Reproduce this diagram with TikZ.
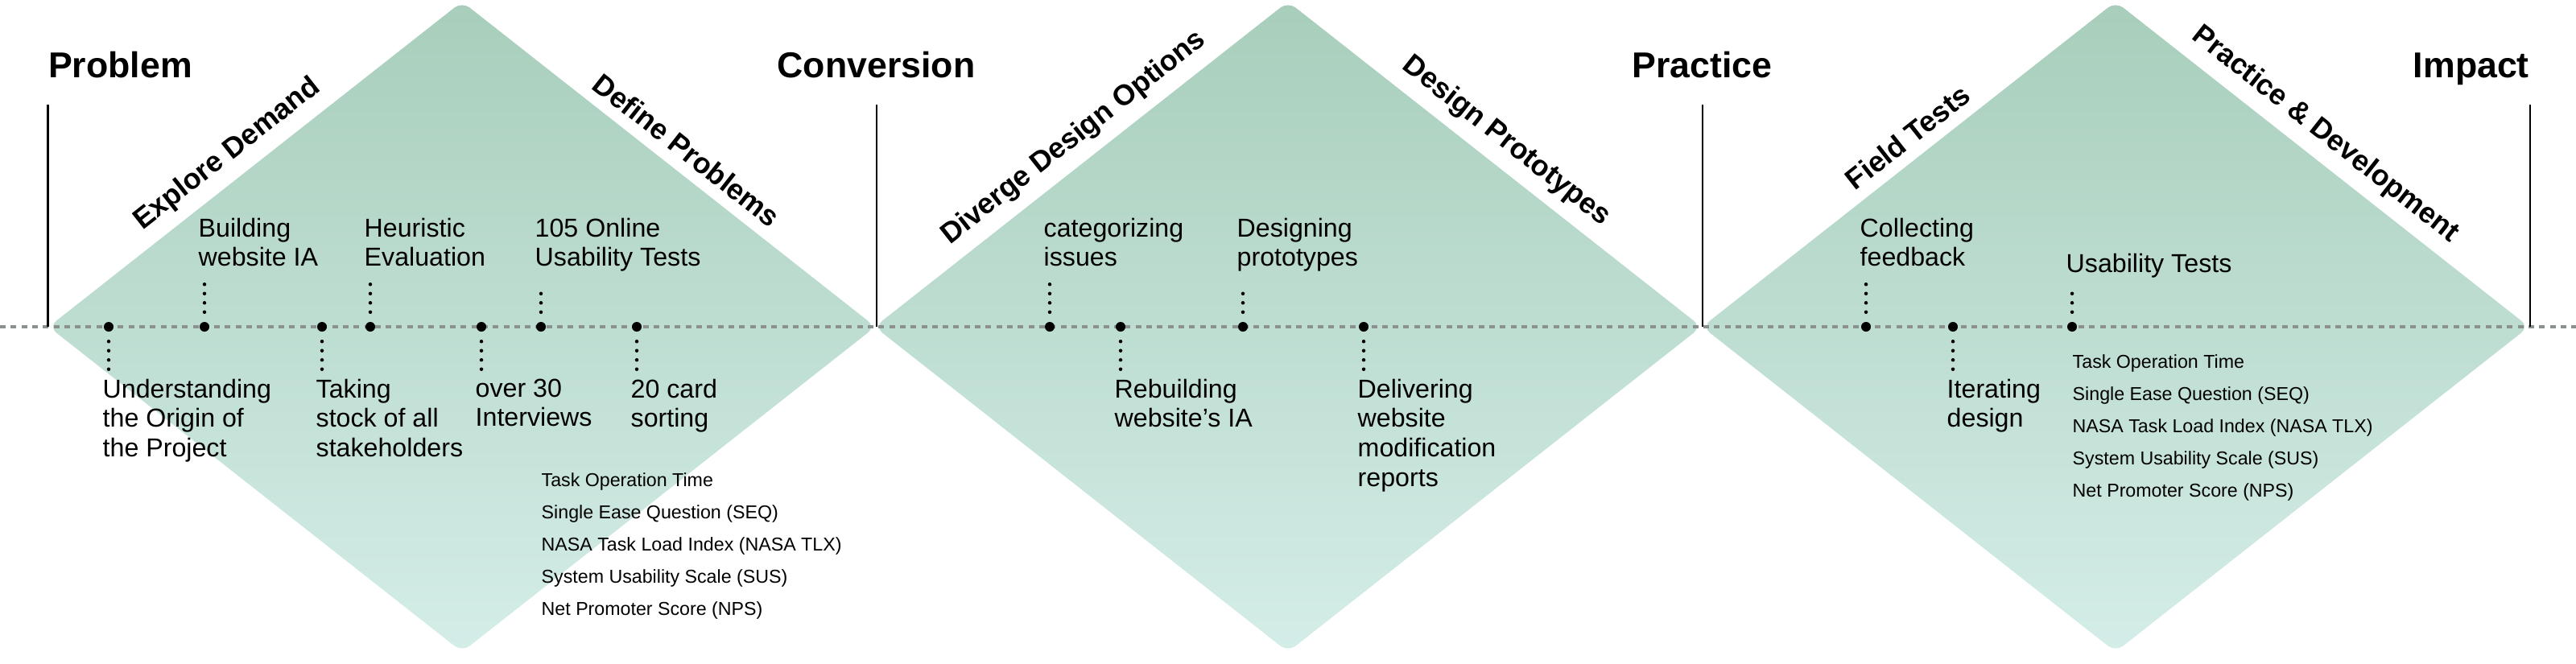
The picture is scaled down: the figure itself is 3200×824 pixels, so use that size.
\documentclass[tikz,border=0pt]{standalone}
\usepackage{fontspec}
\setmainfont{Liberation Sans}
\usetikzlibrary{shapes.geometric,positioning}

\definecolor{sagetop}{RGB}{168,206,187}
\definecolor{sagebottom}{RGB}{212,237,232}
\definecolor{axisgray}{RGB}{138,145,143}

\begin{document}
\begin{tikzpicture}[x=0.01cm, y=-0.01cm,
    stage/.style={diamond, draw=none, minimum width=10.27cm, minimum height=8.08cm, inner sep=0pt, rounded corners=0.12cm, top color=sagetop, bottom color=sagebottom},
    heading/.style={font=\fontsize{12.7}{15}\selectfont\bfseries, inner sep=0pt},
    phase/.style={font=\fontsize{10.2}{12}\selectfont\bfseries, inner xsep=0pt, inner ysep=0.13cm, sloped, anchor=south},
    note/.style={font=\fontsize{9.15}{10.45}\selectfont, align=left, inner sep=0pt, anchor=north west, xshift=-0.08cm},
    metric/.style={font=\fontsize{6.6}{11.38}\selectfont, align=left, inner sep=0pt, anchor=north west},
    milestone/.style={circle, fill=black, minimum size=0.12cm, inner sep=0pt},
    lead/.style={line width=0.045cm, line cap=round, dash pattern=on 0pt off 0.115cm, shorten <=0.115cm},
    leadup/.style={lead, shorten >=0.17cm},
    leaddown/.style={lead, shorten >=0.05cm},
    timeline/.style={axisgray, line width=0.035cm, dash pattern=on 0.07cm off 0.063cm},
    divider/.style={line width=0.02cm}]
  \useasboundingbox (0,0) rectangle (3200,824);

  \node[stage] (dA) at (574,406) {};
  \node[stage] (dB) at (1600,406) {};
  \node[stage] (dC) at (2628,406) {};

  \coordinate (axisL) at (0,406);
  \coordinate (axisR) at (3200,406);
  \draw[timeline] (axisL) -- (axisR);

  \draw[divider] (dA.west) -- ++(0,-276);
  \draw[divider] (dA.east) -- ++(0,-276);
  \draw[divider] (dB.east) -- ++(0,-276);
  \draw[divider] (dC.east) -- ++(0,-276);

  \node[heading, anchor=base west] (hProblem) at (dA.west |- 0,97) {Problem};
  \node[heading, anchor=base] (hConversion) at (dA.east |- 0,97) {Conversion};
  \node[heading, anchor=base] (hPractice) at (dB.east |- 0,97) {Practice};
  \node[heading, anchor=base east] (hImpact) at (dC.east |- 0,97) {Impact};

  \path (dA.west) -- (dA.north) node[phase, pos=0.47] (pExplore) {Explore Demand};
  \path (dA.north) -- (dA.east) node[phase, pos=0.51] (pDefine) {Define Problems};
  \path (dB.west) -- (dB.north) node[phase, pos=0.52] (pDiverge) {Diverge Design Options};
  \path (dB.north) -- (dB.east) node[phase, pos=0.49] (pPrototype) {Design Prototypes};
  \path (dC.west) -- (dC.north) node[phase, pos=0.53] (pField) {Field Tests};
  \path (dC.north) -- (dC.east) node[phase, pos=0.47] (pDevelop) {Practice \& Development};

  \node[milestone] (m1) at (135,406) {};
  \node[milestone] (m2) at (254,406) {};
  \node[milestone] (m3) at (400,406) {};
  \node[milestone] (m4) at (460,406) {};
  \node[milestone] (m5) at (598,406) {};
  \node[milestone] (m6) at (672,406) {};
  \node[milestone] (m7) at (791,406) {};
  \node[milestone] (m8) at (1304,406) {};
  \node[milestone] (m9) at (1392,406) {};
  \node[milestone] (m10) at (1544,406) {};
  \node[milestone] (m11) at (1694,406) {};
  \node[milestone] (m12) at (2318,406) {};
  \node[milestone] (m13) at (2426,406) {};
  \node[milestone] (m14) at (2574,406) {};

  \node[note] (t1) at (m1 |- 0,470) {Understanding\\the Origin of\\the Project};
  \node[note] (t2) at (m2 |- 0,270) {Building\\website IA};
  \node[note] (t3) at (m3 |- 0,470) {Taking\\stock of all\\stakeholders};
  \node[note] (t4) at (m4 |- 0,270) {Heuristic\\Evaluation};
  \node[note] (t5) at (m5 |- 0,470) {over 30\\Interviews};
  \node[note] (t6) at (m6 |- 0,270) {105 Online\\Usability Tests};
  \node[note] (t7) at (m7 |- 0,470) {20 card\\sorting};
  \node[note] (t8) at (m8 |- 0,270) {categorizing\\issues};
  \node[note] (t9) at (m9 |- 0,470) {Rebuilding\\website's IA};
  \node[note] (t10) at (m10 |- 0,270) {Designing\\prototypes};
  \node[note] (t11) at (m11 |- 0,470) {Delivering\\website\\modification\\reports};
  \node[note] (t12) at (m12 |- 0,270) {Collecting\\feedback};
  \node[note] (t13) at (m13 |- 0,470) {Iterating\\design};
  \node[note] (t14) at (m14 |- 0,314) {Usability Tests};

  \draw[leaddown] (m1.south) -- (m1 |- t1.north);
  \draw[leadup] (m2.north) -- (m2 |- t2.south);
  \draw[leaddown] (m3.south) -- (m3 |- t3.north);
  \draw[leadup] (m4.north) -- (m4 |- t4.south);
  \draw[leaddown] (m5.south) -- (m5 |- t5.north);
  \draw[leadup] (m6.north) -- (m6 |- t6.south);
  \draw[leaddown] (m7.south) -- (m7 |- t7.north);
  \draw[leadup] (m8.north) -- (m8 |- t8.south);
  \draw[leaddown] (m9.south) -- (m9 |- t9.north);
  \draw[leadup] (m10.north) -- (m10 |- t10.south);
  \draw[leaddown] (m11.south) -- (m11 |- t11.north);
  \draw[leadup] (m12.north) -- (m12 |- t12.south);
  \draw[leaddown] (m13.south) -- (m13 |- t13.north);
  \draw[leadup] (m14.north) -- (m14 |- t14.south);

  \node[metric] (kpiA) at (m6 |- 0,587) {Task Operation Time\\Single Ease Question (SEQ)\\NASA Task Load Index (NASA TLX)\\System Usability Scale (SUS)\\Net Promoter Score (NPS)};
  \node[metric] (kpiC) at (m14 |- 0,440) {Task Operation Time\\Single Ease Question (SEQ)\\NASA Task Load Index (NASA TLX)\\System Usability Scale (SUS)\\Net Promoter Score (NPS)};
\end{tikzpicture}
\end{document}
